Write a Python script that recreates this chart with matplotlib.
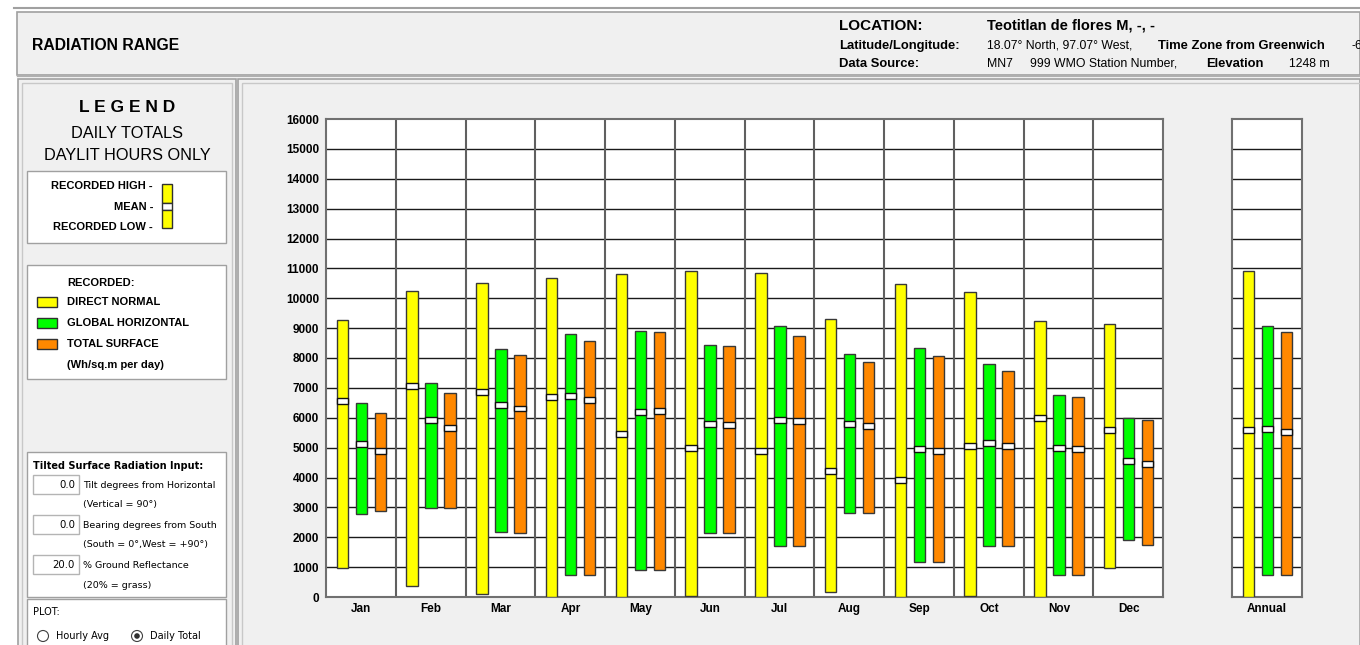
import matplotlib
matplotlib.use('Agg')
import matplotlib.pyplot as plt
from matplotlib.patches import Rectangle, Circle
import numpy as np

plt.rcParams['font.family'] = ['Liberation Sans', 'DejaVu Sans']

months = ['Jan', 'Feb', 'Mar', 'Apr', 'May', 'Jun', 'Jul', 'Aug', 'Sep', 'Oct', 'Nov', 'Dec']

# direct normal (Wh/sq.m per day)
dn_high = [9270, 10240, 10510, 10670, 10810, 10900, 10830, 9310, 10480, 10200, 9250, 9140]
dn_low = [970, 380, 90, 0, 0, 30, 0, 155, 0, 30, 0, 980]
dn_mean = [6550, 7060, 6850, 6680, 5450, 4980, 4880, 4210, 3930, 5040, 5990, 5580]
# global horizontal
gh_high = [6500, 7150, 8310, 8800, 8910, 8430, 9070, 8130, 8350, 7810, 6750, 5980]
gh_low = [2780, 2990, 2190, 725, 890, 2150, 1700, 2810, 1180, 1700, 725, 1920]
gh_mean = [5120, 5940, 6440, 6720, 6180, 5780, 5940, 5780, 4950, 5140, 5000, 4540]
# total surface
ts_high = [6150, 6820, 8100, 8580, 8880, 8400, 8740, 7870, 8080, 7580, 6680, 5920]
ts_low = [2880, 2990, 2150, 725, 890, 2150, 1700, 2810, 1180, 1700, 725, 1750]
ts_mean = [4890, 5650, 6310, 6590, 6210, 5750, 5900, 5710, 4880, 5040, 4950, 4450]

# annual: direct normal, global horizontal, total surface
annual_high = [10900, 9070, 8880]
annual_low = [0, 725, 725]
annual_mean = [5580, 5620, 5520]

yellow = '#ffff00'
green = '#00ff00'
orange = '#ff8800'
panel = '#f0f0f0'
frame = '#a0a0a0'

W, H = 1360, 645
fig = plt.figure(figsize=(W / 100, H / 100), dpi=100)
fig.patch.set_facecolor('white')

# background layer in pixel coords
bg = fig.add_axes([0, 0, 1, 1])
bg.set_xlim(0, W)
bg.set_ylim(H, 0)
bg.axis('off')

bg.plot([14, W], [8, 8], color='#a0a0a0', lw=1.5)

# header
bg.add_patch(Rectangle((17, 12), W - 17, 63, facecolor=panel, edgecolor=frame, lw=1.2))
bg.plot([17, W], [76, 76], color='#b0b0b0', lw=1)
bg.text(32, 46, 'RADIATION RANGE', fontsize=11.3, fontweight='bold', va='center')
bg.text(839, 26, 'LOCATION:', fontsize=11, fontweight='bold', va='center')
bg.text(987, 26, 'Teotitlan de flores M, -, -', fontsize=10.5, fontweight='bold', va='center')
bg.text(839, 46, 'Latitude/Longitude:', fontsize=9.4, fontweight='bold', va='center')
bg.text(987, 46, '18.07° North, 97.07° West,', fontsize=8.8, va='center')
bg.text(1158, 46, 'Time Zone from Greenwich', fontsize=9.4, fontweight='bold', va='center')
bg.text(1351, 46, '-6', fontsize=8.8, va='center')
bg.text(839, 64, 'Data Source:', fontsize=9.4, fontweight='bold', va='center')
bg.text(987, 64, 'MN7', fontsize=8.8, va='center')
bg.text(1030, 64, '999 WMO Station Number,', fontsize=8.8, va='center')
bg.text(1206, 64, 'Elevation', fontsize=9.4, fontweight='bold', va='center')
bg.text(1289, 64, '1248 m', fontsize=8.8, va='center')

# left panel and main panel
bg.add_patch(Rectangle((18, 79), 218, 580, facecolor=panel, edgecolor=frame, lw=1.2))
bg.add_patch(Rectangle((22, 83), 210, 580, facecolor='none', edgecolor='#c8c8c8', lw=1))
bg.add_patch(Rectangle((238, 79), W - 238, 580, facecolor=panel, edgecolor=frame, lw=1.2))
bg.add_patch(Rectangle((242, 83), W - 242, 580, facecolor='none', edgecolor='#c8c8c8', lw=1))

# legend block
bg.text(127, 108, 'L E G E N D', fontsize=12.5, fontweight='bold', ha='center', va='center')
bg.text(127, 134, 'DAILY TOTALS', fontsize=11.8, ha='center', va='center')
bg.text(127, 155, 'DAYLIT HOURS ONLY', fontsize=11.7, ha='center', va='center')

bg.add_patch(Rectangle((27, 171), 199, 72, facecolor='white', edgecolor=frame, lw=1))
bg.text(153, 186, 'RECORDED HIGH -', fontsize=8, fontweight='bold', ha='right', va='center')
bg.text(153, 207, 'MEAN -', fontsize=8, fontweight='bold', ha='right', va='center')
bg.text(153, 227, 'RECORDED LOW -', fontsize=8, fontweight='bold', ha='right', va='center')
bg.add_patch(Rectangle((162, 184), 10, 19, facecolor=yellow, edgecolor='#303030', lw=1))
bg.add_patch(Rectangle((162, 203), 10, 7, facecolor='white', edgecolor='#303030', lw=1))
bg.add_patch(Rectangle((162, 210), 10, 18, facecolor=yellow, edgecolor='#303030', lw=1))

bg.add_patch(Rectangle((27, 265), 199, 114, facecolor='white', edgecolor=frame, lw=1))
bg.text(67, 283, 'RECORDED:', fontsize=8, fontweight='bold', va='center')
for yy, c, lab in [(302, yellow, 'DIRECT NORMAL'), (323, green, 'GLOBAL HORIZONTAL'),
                   (344, orange, 'TOTAL SURFACE')]:
    bg.add_patch(Rectangle((37, yy - 5), 20, 10, facecolor=c, edgecolor='#303030', lw=1))
    bg.text(67, yy, lab, fontsize=8, fontweight='bold', va='center')
bg.text(67, 365, '(Wh/sq.m per day)', fontsize=8, fontweight='bold', va='center')

# tilted surface inputs
bg.add_patch(Rectangle((27, 452), 199, 145, facecolor='white', edgecolor=frame, lw=1))
bg.text(33, 466, 'Tilted Surface Radiation Input:', fontsize=7, fontweight='bold', va='center',
        family='DejaVu Sans')
inputs = [('0.0', 'Tilt degrees from Horizontal', '(Vertical = 90°)'),
          ('0.0', 'Bearing degrees from South', '(South = 0°,West = +90°)'),
          ('20.0', '% Ground Reflectance', '(20% = grass)')]
for i, (val, l1, l2) in enumerate(inputs):
    y0 = 475 + i * 40
    bg.add_patch(Rectangle((33, y0), 46, 19, facecolor='white', edgecolor='#b4b4b4', lw=1))
    bg.text(75, y0 + 10, val, fontsize=7.3, ha='right', va='center', family='DejaVu Sans')
    bg.text(83, y0 + 10, l1, fontsize=6.8, va='center', family='DejaVu Sans')
    bg.text(83, y0 + 30, l2, fontsize=6.8, va='center', family='DejaVu Sans')

bg.add_patch(Rectangle((27, 599), 199, 60, facecolor='white', edgecolor=frame, lw=1))
bg.text(33, 612, 'PLOT:', fontsize=7, va='center', family='DejaVu Sans')
bg.add_patch(Circle((43, 636), 5.5, facecolor='white', edgecolor='#404040', lw=0.8))
bg.text(56, 636, 'Hourly Avg', fontsize=7, va='center', family='DejaVu Sans')
bg.add_patch(Circle((137, 636), 5.5, facecolor='white', edgecolor='#404040', lw=0.8))
bg.add_patch(Circle((137, 636), 2.8, facecolor='#303030', edgecolor='none'))
bg.text(150, 636, 'Daily Total', fontsize=7, va='center', family='DejaVu Sans')

# chart axes
top, bottom = 119, 597
ax = fig.add_axes([326 / W, 1 - bottom / H, 837 / W, (bottom - top) / H])
ax2 = fig.add_axes([1232 / W, 1 - bottom / H, 70 / W, (bottom - top) / H])

bw = 0.164
offs = [0.236, 0.507, 0.779]


def draw_range(a, x, lo, hi, mean, color):
    a.bar(x, hi - lo, bottom=lo, width=bw, color=color, edgecolor='#383838', lw=1, zorder=3)
    a.bar(x, 200, bottom=mean - 100, width=bw, color='white', edgecolor='#101010', lw=1, zorder=4)


x = np.arange(12)
for i in range(12):
    draw_range(ax, x[i] + offs[0], dn_low[i], dn_high[i], dn_mean[i], yellow)
    draw_range(ax, x[i] + offs[1], gh_low[i], gh_high[i], gh_mean[i], green)
    draw_range(ax, x[i] + offs[2], ts_low[i], ts_high[i], ts_mean[i], orange)

for j, c in enumerate([yellow, green, orange]):
    draw_range(ax2, offs[j], annual_low[j], annual_high[j], annual_mean[j], c)

for a in (ax, ax2):
    a.set_facecolor('white')
    a.set_ylim(0, 16000)
    a.set_yticks(np.arange(0, 16001, 1000))
    for v in range(1000, 16000, 1000):
        a.axhline(v, color='#1a1a1a', lw=1, zorder=1)
    for s in a.spines.values():
        s.set_color('#707070')
        s.set_linewidth(1.5)
    a.tick_params(length=0)

ax.set_xlim(0, 12)
for v in range(1, 12):
    ax.axvline(v, color='#606060', lw=1.5, zorder=1)
ax.set_xticks(x + 0.507)
ax.set_xticklabels(months, fontsize=8.5, fontweight='bold')
ax.tick_params(axis='x', pad=4)
ax.tick_params(axis='y', pad=5)
for t in ax.get_yticklabels():
    t.set_fontweight('bold')
    t.set_fontsize(8.5)

ax2.set_xlim(0, 1)
ax2.set_xticks([0.5])
ax2.set_xticklabels(['Annual'], fontsize=8.5, fontweight='bold')
ax2.tick_params(axis='x', pad=4)
ax2.set_yticklabels([])

fig.savefig('out.png', dpi=100)
